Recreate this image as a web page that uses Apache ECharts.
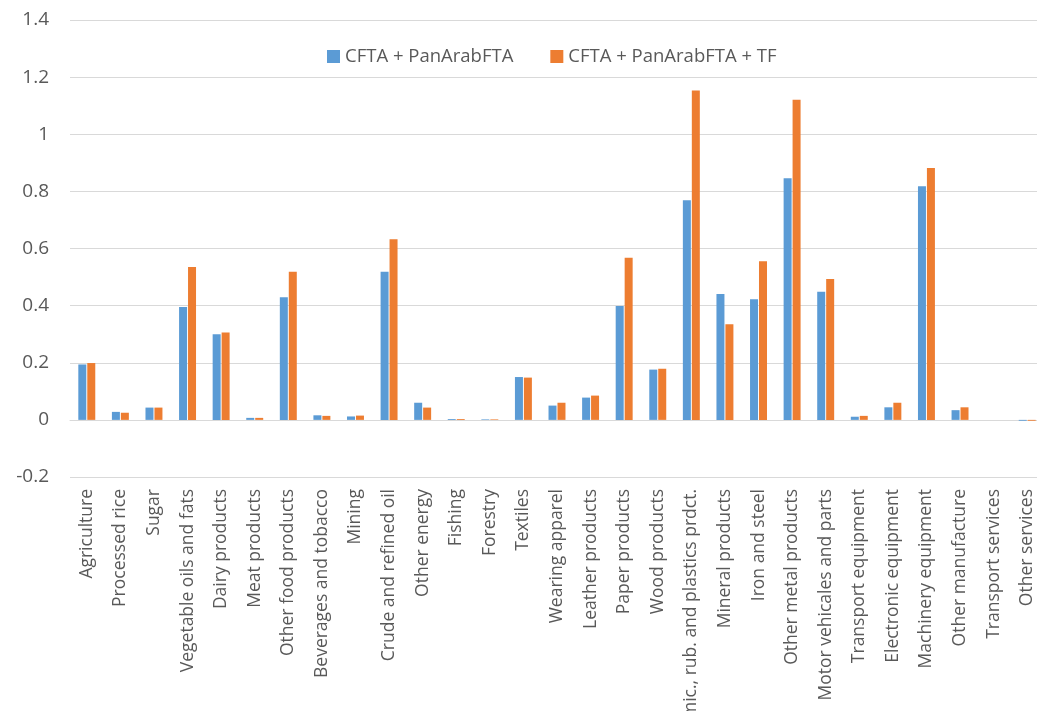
<!DOCTYPE html>
<html>
<head>
<meta charset="utf-8">
<script src="https://cdn.jsdelivr.net/npm/echarts@6/dist/echarts.min.js"></script>
<style>
  html, body { margin: 0; padding: 0; background: #fff; }
  #chart { width: 1037px; height: 711px; }
</style>
</head>
<body>
<div id="chart"></div>
<script>
var categories = ['Agriculture', 'Processed rice', 'Sugar', 'Vegetable oils and fats', 'Dairy products',
  'Meat products', 'Other food products', 'Beverages and tobacco', 'Mining', 'Crude and refined oil',
  'Other energy', 'Fishing', 'Forestry', 'Textiles', 'Wearing apparel', 'Leather products',
  'Paper products', 'Wood products', 'Chemic., rub. and plastics prdct.', 'Mineral products',
  'Iron and steel', 'Other metal products', 'Motor vehicales and parts', 'Transport equipment',
  'Electronic equipment', 'Machinery equipment', 'Other manufacture', 'Transport services', 'Other services']

var seriesNames = ['CFTA + PanArabFTA', 'CFTA + PanArabFTA + TF']

var panArab = [0.194, 0.028, 0.043, 0.395, 0.300, 0.007, 0.429, 0.016, 0.012, 0.519,
  0.060, 0.003, 0.002, 0.150, 0.050, 0.078, 0.399, 0.176, 0.769, 0.441,
  0.422, 0.846, 0.449, 0.011, 0.044, 0.818, 0.034, 0, -0.003]

var panArabTF = [0.199, 0.025, 0.043, 0.535, 0.306, 0.007, 0.519, 0.014, 0.015, 0.632,
  0.043, 0.003, 0.002, 0.148, 0.060, 0.085, 0.568, 0.179, 1.153, 0.335,
  0.555, 1.121, 0.493, 0.014, 0.060, 0.882, 0.044, 0, -0.003]

var chart = echarts.init(document.getElementById('chart'))
var textColor = '#595959'
var font = 'Open Sans'

chart.setOption({
  animation: false,
  color: ['#5b9bd5', '#ed7d31'],
  legend: {
    top: 42,
    left: 322,
    itemWidth: 13,
    itemHeight: 13,
    itemGap: 37,
    icon: 'rect',
    textStyle: { color: textColor, fontSize: 18.5, fontFamily: font },
    data: seriesNames
  },
  grid: {
    left: 70,
    right: -7,
    top: 20,
    bottom: 234,
    containLabel: false,
    outerBoundsMode: 'none'
  },
  xAxis: {
    type: 'category',
    data: categories,
    axisLine: { onZero: true, lineStyle: { color: '#d9d9d9', width: 1 } },
    axisTick: { show: false },
    axisLabel: {
      rotate: 90,
      interval: 0,
      margin: 12,
      color: textColor,
      fontSize: 17.5,
      fontFamily: font
    }
  },
  yAxis: {
    type: 'value',
    min: -0.2,
    max: 1.4,
    interval: 0.2,
    axisLine: { show: false },
    axisTick: { show: false },
    splitLine: { lineStyle: { color: '#d9d9d9', width: 1 } },
    axisLabel: {
      margin: 21,
      color: textColor,
      fontSize: 19,
      fontFamily: font,
      formatter: function (v) { return String(Math.round(v * 10) / 10) }
    }
  },
  series: [
    { name: seriesNames[0], type: 'bar', data: panArab, barWidth: 8, barGap: '12%' },
    { name: seriesNames[1], type: 'bar', data: panArabTF, barWidth: 8, barGap: '12%' }
  ]
})
</script>
</body>
</html>
